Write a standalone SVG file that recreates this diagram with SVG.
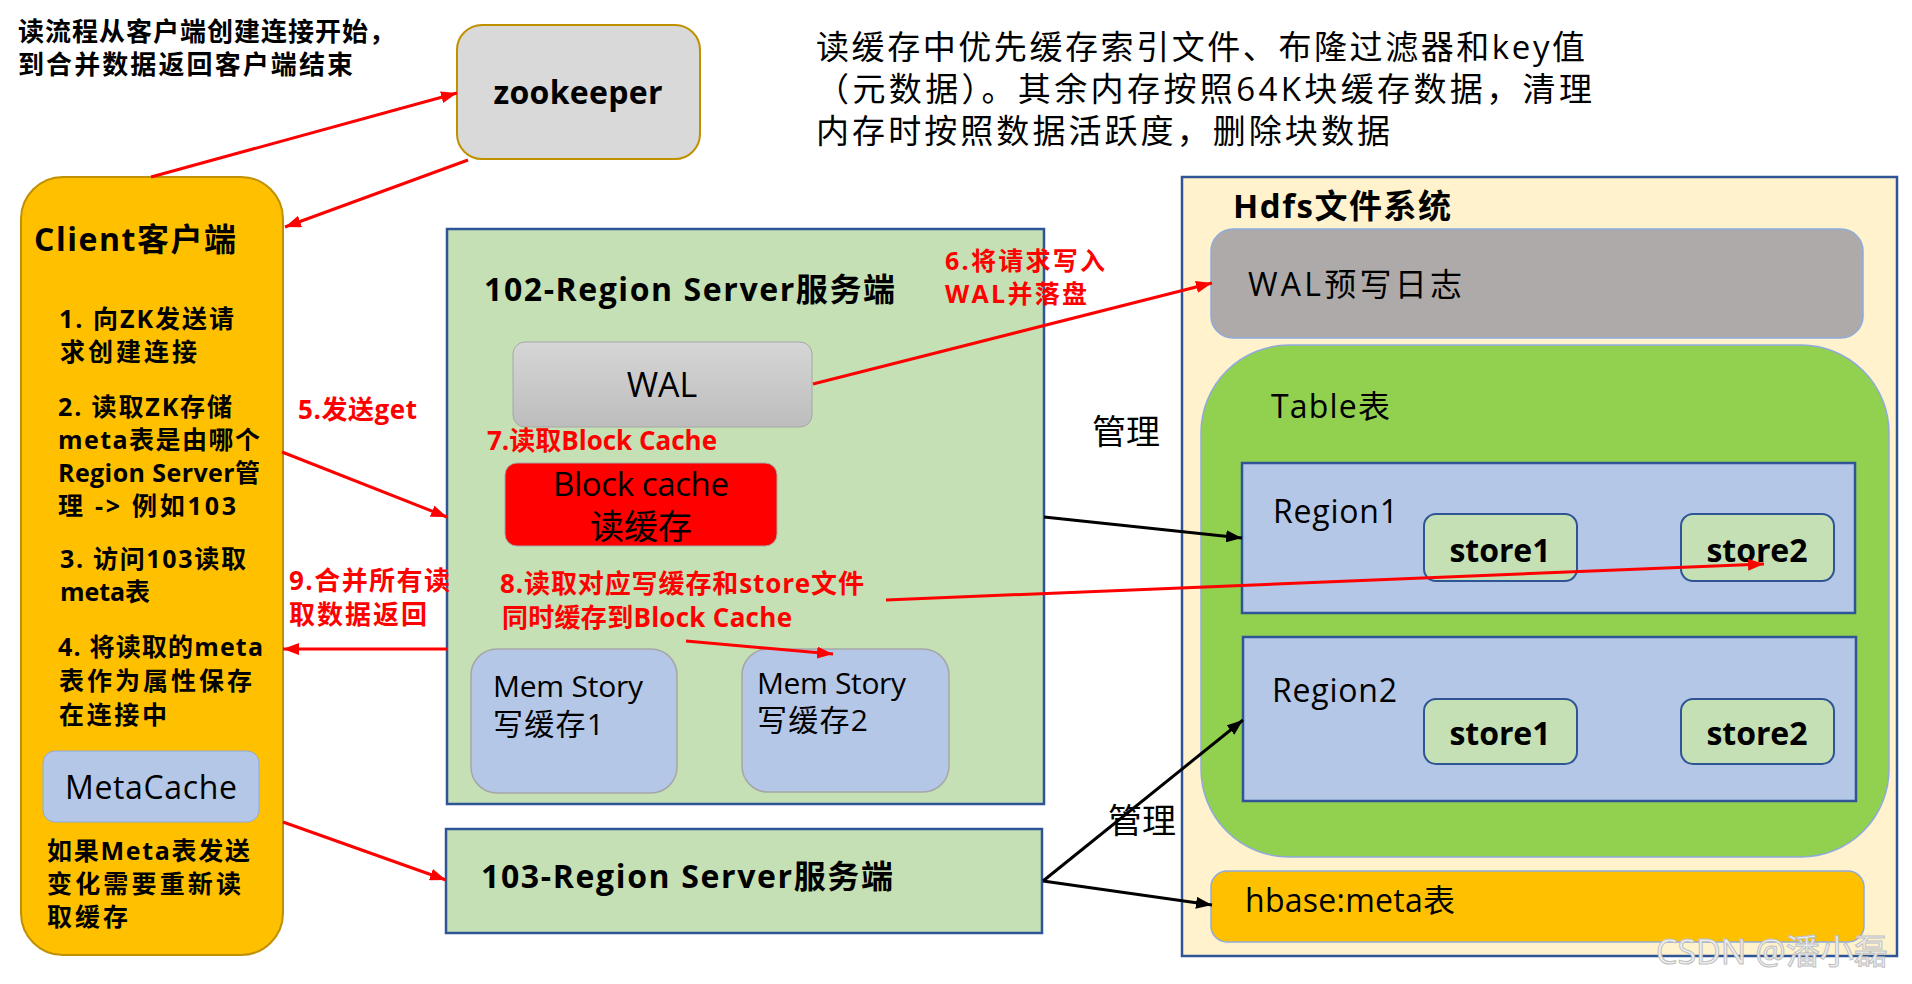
<svg xmlns="http://www.w3.org/2000/svg" width="1912" height="984" viewBox="0 0 1912 984">
<style>
text{font-family:"Open Sans","Noto Sans CJK SC",sans-serif;fill:#000}
.b{font-weight:bold}
.r{fill:#ff0000;font-weight:bold}
.c{text-anchor:middle}
.cl{font-weight:bold;font-size:25px}
.ln{fill:none;stroke-width:3}
.red{stroke:#ff0000}
.blk{stroke:#000}
</style>
<defs>
<linearGradient id="gw" x1="0" y1="0" x2="0" y2="1"><stop offset="0" stop-color="#d6d6d6"/><stop offset="1" stop-color="#bdbdbd"/></linearGradient>
<marker id="ar" markerUnits="userSpaceOnUse" markerWidth="16" markerHeight="12" refX="16" refY="6" orient="auto"><path d="M0,0 L16,6 L0,12 z" fill="#ff0000"/></marker>
<marker id="ab" markerUnits="userSpaceOnUse" markerWidth="16" markerHeight="12" refX="16" refY="6" orient="auto"><path d="M0,0 L16,6 L0,12 z" fill="#000"/></marker>
</defs>
<rect width="1912" height="984" fill="#fff"/>

<g id="title">
<text class="b" x="18" y="41" font-size="26" textLength="377">读流程从客户端创建连接开始，</text>
<text class="b" x="18" y="74" font-size="26" textLength="335">到合并数据返回客户端结束</text>
</g>

<g id="note">
<text x="816" y="59" font-size="33" textLength="769">读缓存中优先缓存索引文件、布隆过滤器和key值</text>
<text x="816" y="101" font-size="33" textLength="776">（元数据）。其余内存按照64K块缓存数据，清理</text>
<text x="816" y="143" font-size="33" textLength="574">内存时按照数据活跃度，删除块数据</text>
</g>

<g id="zookeeper">
<rect x="457" y="25" width="243" height="134" rx="25" fill="#d9d9d9" stroke="#bf9000" stroke-width="2"/>
<text class="b c" x="578" y="104" font-size="32" textLength="169">zookeeper</text>
</g>

<g id="client">
<rect x="21" y="177" width="262" height="778" rx="42" fill="#ffc000" stroke="#bf9000" stroke-width="2"/>
<text class="b" x="34" y="251" font-size="32" textLength="202">Client客户端</text>
<text class="cl" x="59" y="328" textLength="175">1. 向ZK发送请</text>
<text class="cl" x="60" y="361" textLength="137">求创建连接</text>
<text class="cl" x="58" y="416" textLength="174">2. 读取ZK存储</text>
<text class="cl" x="58" y="449" textLength="202">meta表是由哪个</text>
<text class="cl" x="58" y="482" textLength="202">Region Server管</text>
<text class="cl" x="58" y="515" textLength="178">理 -&gt; 例如103</text>
<text class="cl" x="60" y="568" textLength="186">3. 访问103读取</text>
<text class="cl" x="60" y="601" textLength="90">meta表</text>
<text class="cl" x="58" y="656" textLength="205">4. 将读取的meta</text>
<text class="cl" x="59" y="690" textLength="193">表作为属性保存</text>
<text class="cl" x="59" y="724" textLength="108">在连接中</text>
<text class="cl" x="47" y="860" textLength="203">如果Meta表发送</text>
<text class="cl" x="47" y="893" textLength="194">变化需要重新读</text>
<text class="cl" x="47" y="926" textLength="81">取缓存</text>
</g>

<g id="metacache">
<rect x="43" y="751" width="216" height="71" rx="12" fill="#b4c7e7" stroke="#8faadc" stroke-width="1"/>
<text class="c" x="151" y="799" font-size="32" textLength="172">MetaCache</text>
</g>

<g id="rs102">
<rect x="447" y="229" width="597" height="575" fill="#c5e0b4" stroke="#2f5597" stroke-width="2.5"/>
<text class="b" x="484" y="301" font-size="32" textLength="411">102-Region Server服务端</text>
</g>

<g id="wal">
<rect x="513" y="342" width="299" height="85" rx="12" fill="url(#gw)" stroke="#a6a6a6" stroke-width="1"/>
<text class="c" x="662" y="397" font-size="34">WAL</text>
</g>

<g id="blockcache">
<rect x="505" y="463" width="272" height="83" rx="12" fill="#ff0000" stroke="#a6a6a6" stroke-width="1"/>
<text class="c" x="641" y="496" font-size="33" textLength="176">Block cache</text>
<text class="c" x="641" y="539" font-size="34">读缓存</text>
</g>

<g id="memstore1">
<rect x="471" y="649" width="206" height="144" rx="26" fill="#b4c7e7" stroke="#a6a6a6" stroke-width="1.5"/>
<text x="493" y="697" font-size="30" textLength="150">Mem Story</text>
<text x="493" y="735" font-size="30" textLength="111">写缓存1</text>
</g>

<g id="memstore2">
<rect x="742" y="649" width="207" height="143" rx="26" fill="#b4c7e7" stroke="#a6a6a6" stroke-width="1.5"/>
<text x="757" y="694" font-size="30" textLength="149">Mem Story</text>
<text x="757" y="731" font-size="30" textLength="111">写缓存2</text>
</g>

<g id="rs103">
<rect x="446" y="829" width="596" height="104" fill="#c5e0b4" stroke="#2f5597" stroke-width="2.5"/>
<text class="b" x="481" y="888" font-size="32" textLength="412">103-Region Server服务端</text>
</g>

<g id="hdfs">
<rect x="1182" y="177" width="715" height="779" fill="#fff2cc" stroke="#2f5597" stroke-width="2.5"/>
<text class="b" x="1233" y="218" font-size="33" textLength="218">Hdfs文件系统</text>
</g>

<g id="walfile">
<rect x="1211" y="229" width="652" height="109" rx="22" fill="#aeaaaa" stroke="#8faadc" stroke-width="1.5"/>
<text x="1248" y="296" font-size="32" textLength="214">WAL预写日志</text>
</g>

<g id="table">
<rect x="1201" y="345" width="688" height="512" rx="88" fill="#92d050" stroke="#8faadc" stroke-width="1.5"/>
<text x="1271" y="418" font-size="32" textLength="119">Table表</text>
</g>

<g id="region1">
<rect x="1242" y="463" width="613" height="150" fill="#b4c7e7" stroke="#2f5597" stroke-width="2.5"/>
<text x="1273" y="523" font-size="32" textLength="125">Region1</text>
</g>
<g id="r1store1">
<rect x="1424" y="514" width="153" height="67" rx="12" fill="#c5e0b4" stroke="#2f5597" stroke-width="2"/>
<text class="b c" x="1500" y="562" font-size="32" textLength="101">store1</text>
</g>
<g id="r1store2">
<rect x="1681" y="514" width="153" height="67" rx="12" fill="#c5e0b4" stroke="#2f5597" stroke-width="2"/>
<text class="b c" x="1757" y="562" font-size="32" textLength="101">store2</text>
</g>

<g id="region2">
<rect x="1243" y="637" width="613" height="164" fill="#b4c7e7" stroke="#2f5597" stroke-width="2.5"/>
<text x="1272" y="702" font-size="32" textLength="125">Region2</text>
</g>
<g id="r2store1">
<rect x="1424" y="699" width="153" height="65" rx="12" fill="#c5e0b4" stroke="#2f5597" stroke-width="2"/>
<text class="b c" x="1500" y="745" font-size="32" textLength="101">store1</text>
</g>
<g id="r2store2">
<rect x="1681" y="699" width="153" height="65" rx="12" fill="#c5e0b4" stroke="#2f5597" stroke-width="2"/>
<text class="b c" x="1757" y="745" font-size="32" textLength="101">store2</text>
</g>

<g id="hbasemeta">
<rect x="1211" y="871" width="653" height="71" rx="16" fill="#ffc000" stroke="#8faadc" stroke-width="1.5"/>
<text x="1245" y="912" font-size="32" textLength="210">hbase:meta表</text>
</g>

<g id="labels">
<text class="r" x="298" y="419" font-size="26" textLength="119">5.发送get</text>
<text class="r" x="289" y="590" font-size="26" textLength="161">9.合并所有读</text>
<text class="r" x="289" y="624" font-size="26" textLength="138">取数据返回</text>
<text class="r" x="945" y="270" font-size="25" textLength="160">6.将请求写入</text>
<text class="r" x="945" y="303" font-size="25" textLength="142">WAL并落盘</text>
<text class="r" x="487" y="450" font-size="26" textLength="230">7.读取Block Cache</text>
<text class="r" x="500" y="593" font-size="26" textLength="364">8.读取对应写缓存和store文件</text>
<text class="r" x="502" y="627" font-size="26" textLength="290">同时缓存到Block Cache</text>
<text x="1092" y="444" font-size="34">管理</text>
<text x="1108" y="833" font-size="34">管理</text>
</g>

<g id="connectors">
<line class="ln red" x1="151" y1="177" x2="457" y2="93" marker-end="url(#ar)"/>
<line class="ln red" x1="468" y1="160" x2="285" y2="227" marker-end="url(#ar)"/>
<line class="ln red" x1="282" y1="452" x2="447" y2="517" marker-end="url(#ar)"/>
<line class="ln red" x1="448" y1="649" x2="283" y2="649" marker-end="url(#ar)"/>
<line class="ln red" x1="283" y1="822" x2="446" y2="880" marker-end="url(#ar)"/>
<line class="ln red" x1="813" y1="384" x2="1212" y2="283" marker-end="url(#ar)"/>
<line class="ln red" x1="886" y1="600" x2="1764" y2="564" marker-end="url(#ar)"/>
<line class="ln red" x1="686" y1="641" x2="833" y2="654" marker-end="url(#ar)"/>
<line class="ln blk" x1="1044" y1="517" x2="1242" y2="538" marker-end="url(#ab)"/>
<line class="ln blk" x1="1043" y1="881" x2="1243" y2="720" marker-end="url(#ab)"/>
<line class="ln blk" x1="1043" y1="881" x2="1212" y2="905" marker-end="url(#ab)"/>
</g>

<g id="watermark">
<text x="1656" y="964" font-size="34" stroke="#c0c0c0" stroke-width="1" style="fill:#f0f0f0">CSDN @潘小磊</text>
</g>
</svg>
